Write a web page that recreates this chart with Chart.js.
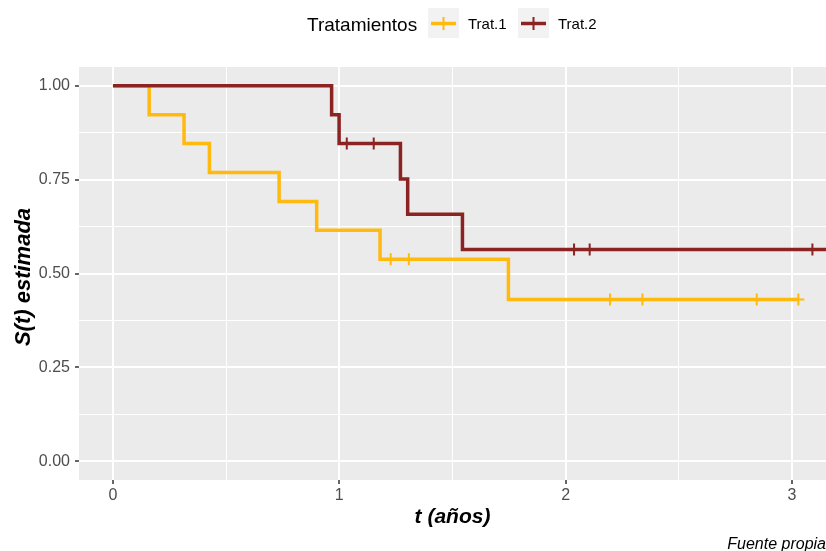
<!DOCTYPE html>
<html lang="es">
<head>
<meta charset="utf-8">
<title>Curvas de supervivencia</title>
<script src="https://cdn.jsdelivr.net/npm/chart.js@4.4.1/dist/chart.umd.min.js"></script>
<style>
    html, body { margin: 0; padding: 0; background: #ffffff; }
    #wrap { width: 826px; height: 551px; }
</style>
</head>
<body>
<div id="wrap"><canvas id="km" width="826" height="551"></canvas></div>
<script>
// Kaplan-Meier estimates
const trat1Time = [0, 0.16, 0.314, 0.426, 0.734, 0.90, 1.18, 1.747, 3.028];
const trat1Surv = [1, 0.923, 0.846, 0.769, 0.692, 0.615, 0.538, 0.431, 0.431];
const trat1CensorTime = [1.227, 1.307, 2.196, 2.339, 2.844, 3.028];
const trat1CensorSurv = [0.538, 0.538, 0.431, 0.431, 0.431, 0.431];

const trat2Time = [0, 0.966, 0.999, 1.27, 1.302, 1.544, 3.2];
const trat2Surv = [1, 0.923, 0.846, 0.752, 0.658, 0.564, 0.564];
const trat2CensorTime = [1.033, 1.152, 2.037, 2.106, 3.09];
const trat2CensorSurv = [0.846, 0.846, 0.564, 0.564, 0.564];

const seriesNames = ['Trat.1', 'Trat.2'];
const seriesColors = ['#FFB90F', '#8B2323'];

const xTicks = [0, 0.5, 1, 1.5, 2, 2.5, 3];
const yTicks = [0, 0.125, 0.25, 0.375, 0.5, 0.625, 0.75, 0.875, 1];

const FONT = '"Liberation Sans", Arial, Helvetica, sans-serif';

// zip two arrays into {x, y} points
function toPoints(xs, ys) {
    return xs.map((x, i) => ({ x: x, y: ys[i] }));
}

function isMajorX(v) { return Math.abs(v - Math.round(v)) < 1e-9; }
function isMajorY(v) { return Math.abs(v * 4 - Math.round(v * 4)) < 1e-9; }

// grey panel behind the grid
const panelBg = {
    id: 'panelBg',
    beforeDraw(chart) {
        const a = chart.chartArea;
        const ctx = chart.ctx;
        ctx.save();
        ctx.fillStyle = '#EBEBEB';
        ctx.fillRect(a.left, a.top, a.right - a.left, a.bottom - a.top);
        ctx.restore();
    }
};

// axis titles, legend and caption
const decorations = {
    id: 'decorations',
    afterDraw(chart) {
        const ctx = chart.ctx;
        const a = chart.chartArea;
        ctx.save();
        ctx.fillStyle = '#000000';

        // x title
        ctx.font = 'italic bold 21px ' + FONT;
        ctx.textAlign = 'center';
        ctx.textBaseline = 'alphabetic';
        ctx.fillText('t (años)', (a.left + a.right) / 2, 523);

        // y title
        ctx.save();
        ctx.font = 'italic bold 22px ' + FONT;
        ctx.translate(30, 277);
        ctx.rotate(-Math.PI / 2);
        ctx.fillText('S(t) estimada', 0, 0);
        ctx.restore();

        // caption
        ctx.font = 'italic 16px ' + FONT;
        ctx.textAlign = 'right';
        ctx.fillText('Fuente propia', 826, 549);

        // legend
        ctx.textAlign = 'left';
        ctx.font = '19px ' + FONT;
        ctx.fillText('Tratamientos', 307, 31);
        const keyX = [428, 518];
        ctx.font = '15px ' + FONT;
        for (let i = 0; i < 2; i++) {
            const kx = keyX[i];
            ctx.fillStyle = '#F2F2F2';
            ctx.fillRect(kx, 8, 31, 30);
            ctx.strokeStyle = seriesColors[i];
            ctx.lineWidth = 3.5;
            ctx.beginPath();
            ctx.moveTo(kx + 3, 23.5);
            ctx.lineTo(kx + 28, 23.5);
            ctx.stroke();
            ctx.lineWidth = 2;
            ctx.beginPath();
            ctx.moveTo(kx + 15.5, 17);
            ctx.lineTo(kx + 15.5, 30);
            ctx.stroke();
            ctx.fillStyle = '#000000';
            ctx.fillText(seriesNames[i], kx + 40, 29);
        }
        ctx.restore();
    }
};

function lineDataset(label, xs, ys, color) {
    return {
        label: label,
        data: toPoints(xs, ys),
        showLine: true,
        stepped: 'before',
        borderColor: color,
        borderWidth: 3.5,
        borderCapStyle: 'butt',
        borderJoinStyle: 'miter',
        pointRadius: 0,
        fill: false
    };
}

function censorDataset(label, xs, ys, color) {
    return {
        label: label,
        data: toPoints(xs, ys),
        showLine: false,
        pointStyle: 'cross',
        pointRadius: 6,
        pointBorderWidth: 2,
        borderColor: color,
        backgroundColor: color
    };
}

// drop the extra room Chart.js keeps for edge tick labels
function noEdgePadding(scale) {
    scale.paddingLeft = 0;
    scale.paddingRight = 0;
    scale.paddingTop = 0;
    scale.paddingBottom = 0;
}

const ctx = document.getElementById('km');
new Chart(ctx, {
    type: 'scatter',
    data: {
        datasets: [
            // first dataset is drawn on top
            censorDataset('Trat.2 censura', trat2CensorTime, trat2CensorSurv, seriesColors[1]),
            lineDataset('Trat.2', trat2Time, trat2Surv, seriesColors[1]),
            censorDataset('Trat.1 censura', trat1CensorTime, trat1CensorSurv, seriesColors[0]),
            lineDataset('Trat.1', trat1Time, trat1Surv, seriesColors[0])
        ]
    },
    options: {
        responsive: false,
        animation: false,
        devicePixelRatio: 1,
        layout: {
            autoPadding: false,
            padding: { top: 67, right: 0, bottom: 0, left: 0 }
        },
        plugins: {
            legend: { display: false },
            tooltip: { enabled: false }
        },
        scales: {
            x: {
                type: 'linear',
                min: -0.15,
                max: 3.15,
                afterBuildTicks: scale => { scale.ticks = xTicks.map(v => ({ value: v })); },
                afterFit: scale => { scale.height = 71; noEdgePadding(scale); },
                border: { display: false },
                grid: {
                    color: '#FFFFFF',
                    lineWidth: c => isMajorX(c.tick.value) ? 2 : 1,
                    tickColor: c => isMajorX(c.tick.value) ? '#333333' : 'rgba(0,0,0,0)',
                    tickLength: 4,
                    tickWidth: 1.5
                },
                ticks: {
                    autoSkip: false,
                    maxRotation: 0,
                    padding: 2,
                    color: '#4D4D4D',
                    font: { family: FONT, size: 16 },
                    callback: v => isMajorX(v) ? String(v) : ''
                }
            },
            y: {
                type: 'linear',
                min: -0.05,
                max: 1.05,
                afterBuildTicks: scale => { scale.ticks = yTicks.map(v => ({ value: v })); },
                afterFit: scale => { scale.width = 79; noEdgePadding(scale); },
                border: { display: false },
                grid: {
                    color: '#FFFFFF',
                    lineWidth: c => isMajorY(c.tick.value) ? 2 : 1,
                    tickColor: c => isMajorY(c.tick.value) ? '#333333' : 'rgba(0,0,0,0)',
                    tickLength: 4,
                    tickWidth: 1.5
                },
                ticks: {
                    autoSkip: false,
                    padding: 5,
                    color: '#4D4D4D',
                    font: { family: FONT, size: 16 },
                    callback: v => isMajorY(v) ? v.toFixed(2) : ''
                }
            }
        }
    },
    plugins: [panelBg, decorations]
});
</script>
</body>
</html>
